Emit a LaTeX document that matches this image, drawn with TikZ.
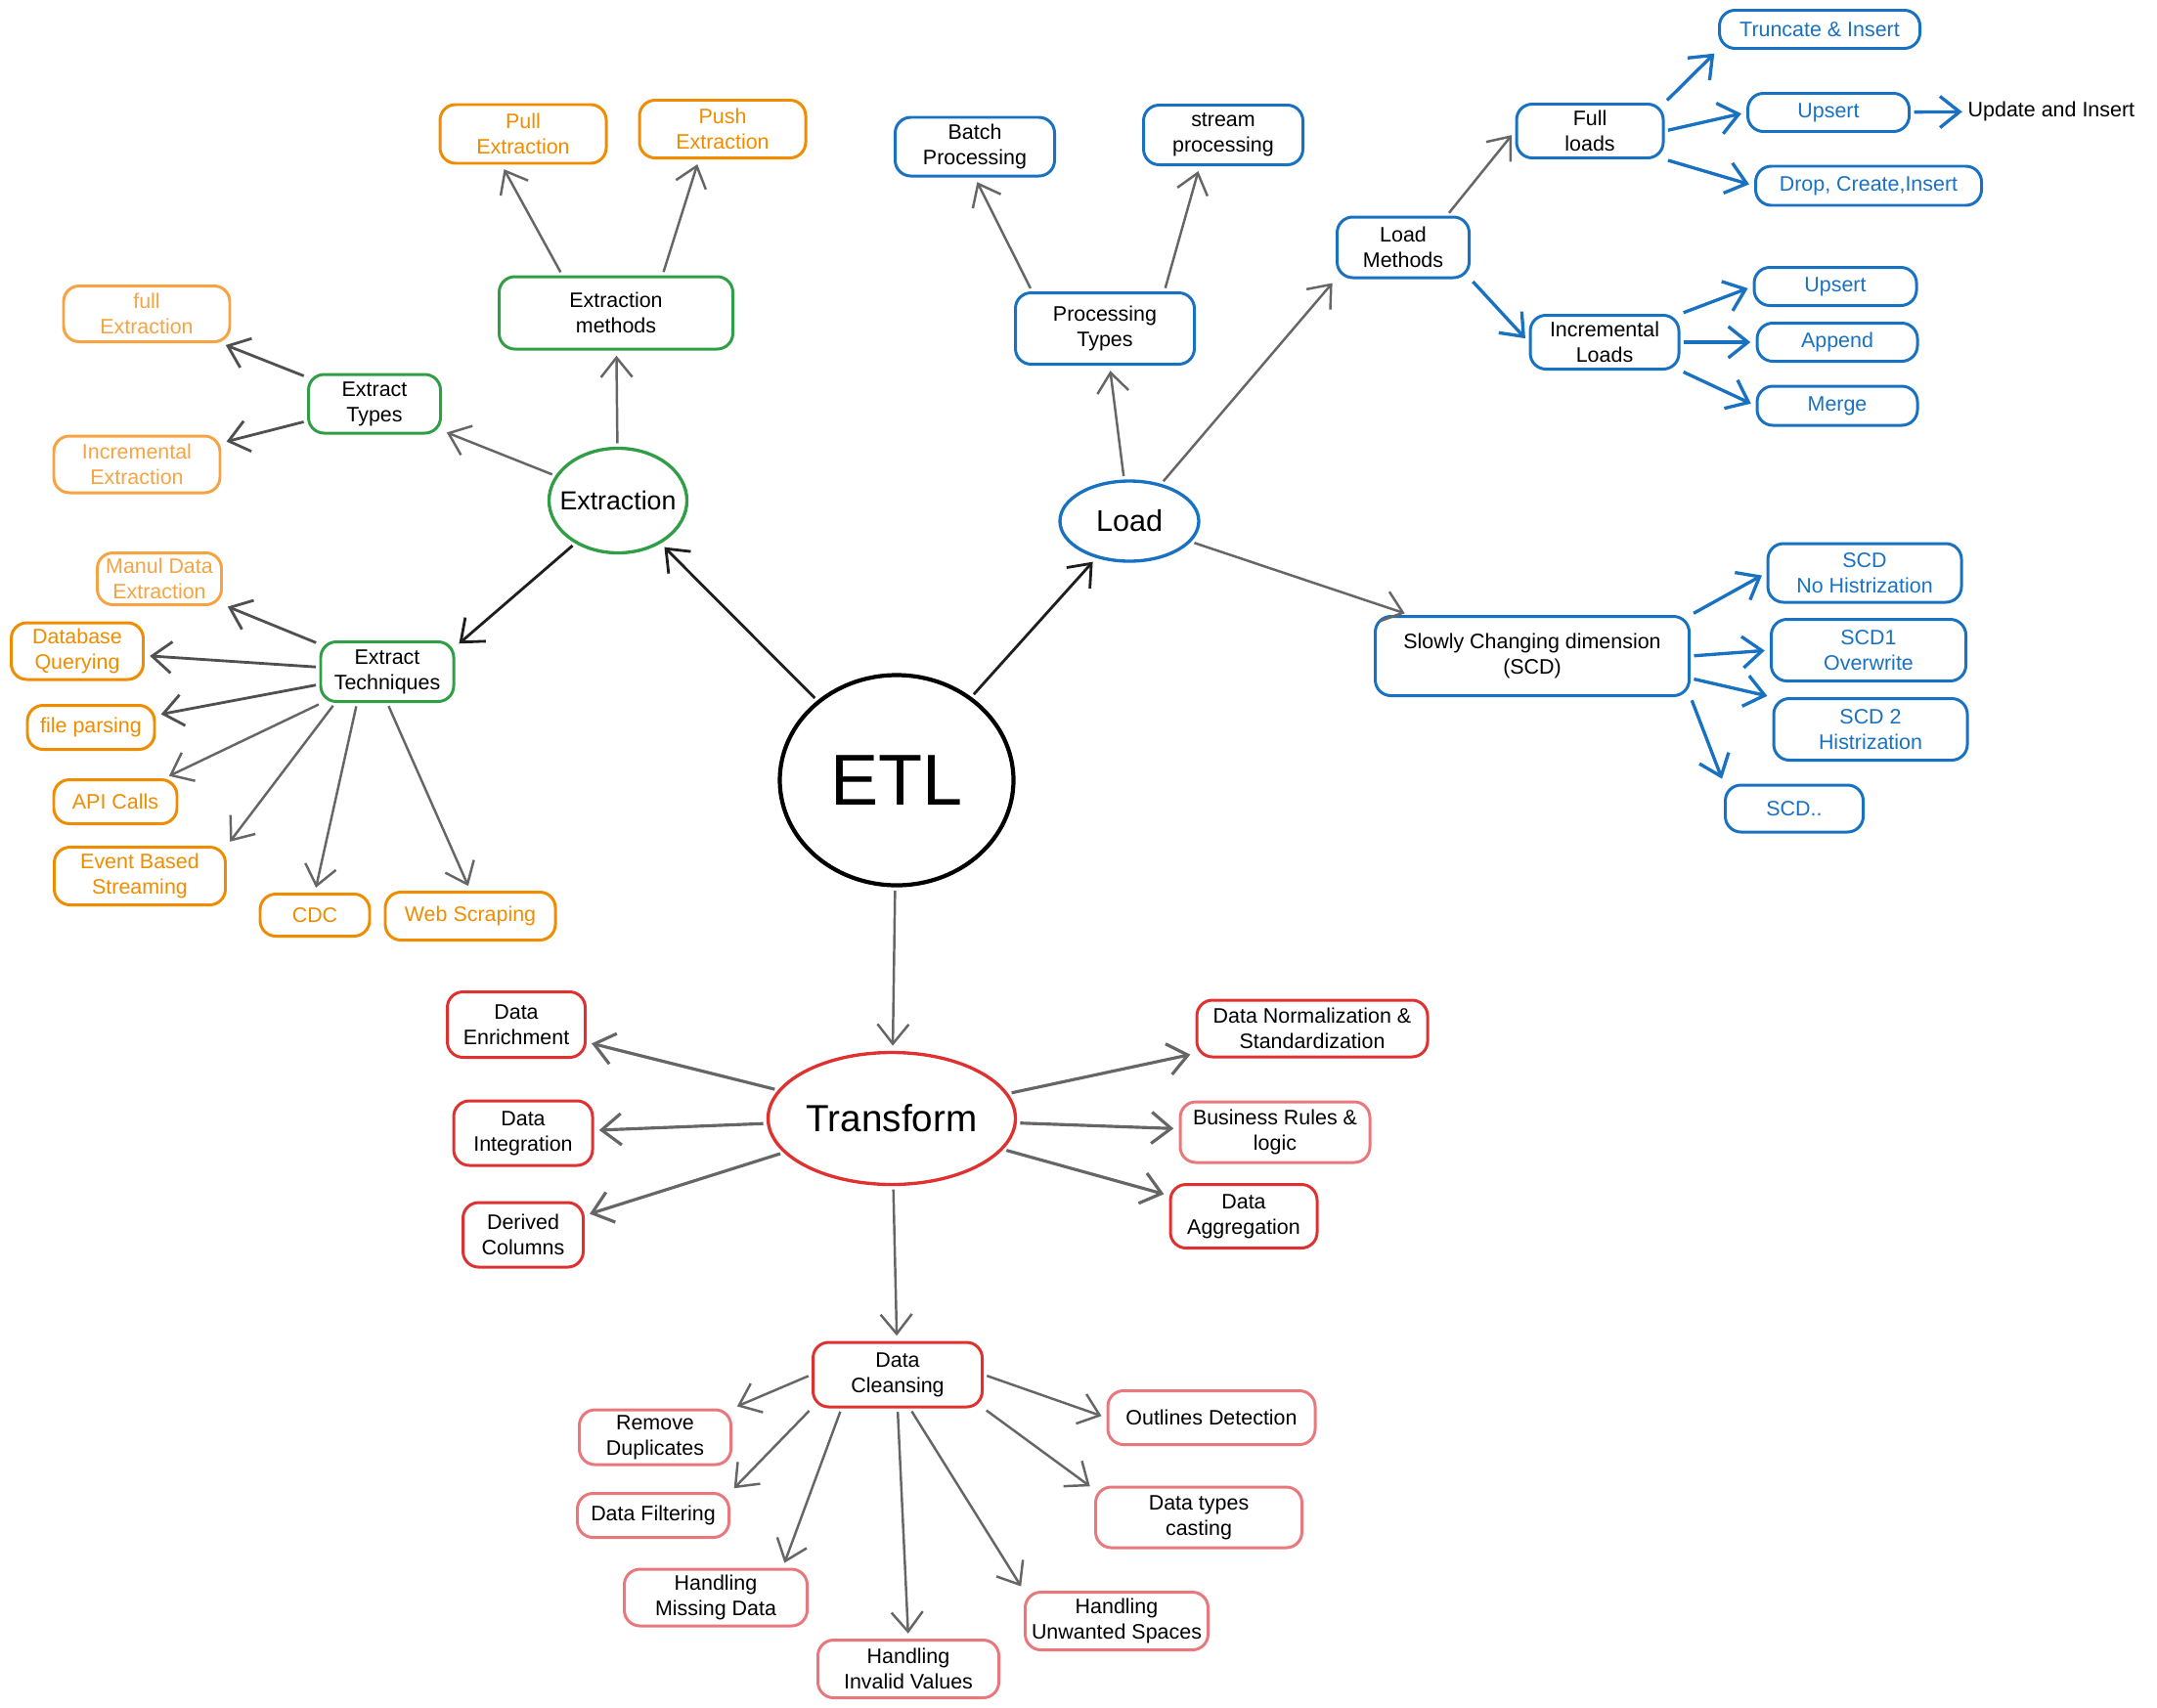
\documentclass[tikz,border=0pt]{standalone}
\usepackage{fontspec}
\setmainfont{Liberation Sans}
\usetikzlibrary{arrows.meta,shapes.geometric}

\definecolor{orangeC}{HTML}{F08C00}
\definecolor{lorangeC}{HTML}{F6A443}
\definecolor{greenC}{HTML}{2F9E44}
\definecolor{blueC}{HTML}{1971C2}
\definecolor{redC}{HTML}{E03131}
\definecolor{pinkC}{HTML}{E9787C}
\definecolor{grayA}{HTML}{666666}
\definecolor{darkA}{HTML}{505050}
\definecolor{blackA}{HTML}{1E1E1E}

\begin{document}
\begin{tikzpicture}[
		box/.style={draw, rounded corners=1.6mm, line width=0.85pt, align=center, inner sep=1pt, font=\fontsize{6.1}{7.4}\selectfont},
		sz/.style 2 args={minimum width=#1cm, minimum height=#2cm},
		orbox/.style={box, draw=orangeC, text=orangeC},
		lorbox/.style={box, draw=lorangeC, text=lorangeC},
		grbox/.style={box, draw=greenC},
		blbox/.style={box, draw=blueC},
		blleaf/.style={box, draw=blueC, text=blueC},
		rdbox/.style={box, draw=redC},
		pkbox/.style={box, draw=pinkC},
		hub/.style={ellipse, draw, line width=0.95pt, inner sep=0pt},
		arr/.style={-{Straight Barb[length=2mm,width=3.2mm]}, line width=0.7pt, shorten <=1pt, shorten >=1.5pt},
		grayarr/.style={arr, draw=grayA},
		darkarr/.style={arr, draw=darkA, line width=0.8pt},
		blackarr/.style={arr, draw=blackA, line width=0.8pt},
		bluearr/.style={arr, draw=blueC, line width=0.95pt}
	]
			\useasboundingbox (0,0) rectangle (22.06,-17.46);

			\node [hub, line width=1.2pt, minimum width=2.39cm, minimum height=2.15cm, font=\fontsize{21}{24}\selectfont] (etl) at (9.17,-7.98) {\makebox[0pt]{ETL}};
			\node [hub, draw=greenC, minimum width=1.41cm, minimum height=1.07cm, font=\fontsize{7.6}{9}\selectfont] (extraction) at (6.32,-5.12) {\makebox[0pt]{Extraction}};
			\node [hub, draw=blueC, minimum width=1.42cm, minimum height=0.82cm, font=\fontsize{8.7}{10}\selectfont] (load) at (11.55,-5.33) {\makebox[0pt]{Load}};
			\node [hub, draw=redC, minimum width=2.53cm, minimum height=1.35cm, font=\fontsize{11}{13}\selectfont] (transform) at (9.12,-11.44) {\makebox[0pt]{Transform}};

			\node [grbox, sz={2.39}{0.74}] (emethods) at (6.30,-3.20) {Extraction\\methods};
			\node [grbox, sz={1.35}{0.60}] (etypes) at (3.83,-4.13) {Extract\\Types};
			\node [grbox, sz={1.36}{0.61}] (etech) at (3.96,-6.87) {Extract\\Techniques};

			\node [orbox, sz={1.70}{0.60}] (pull) at (5.35,-1.37) {Pull\\Extraction};
			\node [orbox, sz={1.70}{0.59}] (push) at (7.39,-1.32) {Push\\Extraction};
			\node [lorbox, sz={1.70}{0.57}] (fullext) at (1.50,-3.21) {full\\Extraction};
			\node [lorbox, sz={1.70}{0.58}] (incext) at (1.40,-4.75) {Incremental\\Extraction};
			\node [lorbox, sz={1.27}{0.53}] (manual) at (1.63,-5.92) {Manul Data\\Extraction};
			\node [orbox, sz={1.35}{0.58}] (dbq) at (0.79,-6.66) {Database\\Querying};
			\node [orbox, sz={1.30}{0.45}] (fparse) at (0.93,-7.44) {file parsing};
			\node [orbox, sz={1.26}{0.45}] (api) at (1.18,-8.20) {API Calls};
			\node [orbox, sz={1.75}{0.59}] (event) at (1.43,-8.96) {Event Based\\Streaming};
			\node [orbox, sz={1.12}{0.43}] (cdc) at (3.22,-9.36) {CDC};
			\node [orbox, sz={1.74}{0.49}] (web) at (4.81,-9.37) {Web Scraping};

			\node [blbox, sz={1.63}{0.60}] (batch) at (9.97,-1.50) {Batch\\Processing};
			\node [blbox, sz={1.63}{0.61}] (stream) at (12.51,-1.38) {stream\\processing};
			\node [blbox, sz={1.83}{0.73}] (ptypes) at (11.30,-3.36) {Processing\\Types};
			\node [blbox, sz={1.35}{0.62}] (lmethods) at (14.35,-2.53) {Load\\Methods};
			\node [blbox, sz={1.50}{0.55}] (fullloads) at (16.26,-1.34) {Full\\loads};
			\node [blleaf, sz={2.05}{0.39}] (truncate) at (18.61,-0.30) {Truncate \& Insert};
			\node [blleaf, sz={1.65}{0.39}] (upsert1) at (18.70,-1.15) {Upsert};
			\node [font=\fontsize{6.1}{7.4}\selectfont, anchor=west, inner sep=0pt] (upd) at (20.12,-1.14) {Update and Insert};
			\node [blleaf, sz={2.31}{0.40}] (drop) at (19.11,-1.90) {Drop, Create,Insert};
			\node [blbox, sz={1.52}{0.55}] (incloads) at (16.41,-3.50) {Incremental\\Loads};
			\node [blleaf, sz={1.66}{0.39}] (upsert2) at (18.77,-2.93) {Upsert};
			\node [blleaf, sz={1.64}{0.39}] (append) at (18.79,-3.50) {Append};
			\node [blleaf, sz={1.64}{0.40}] (merge) at (18.79,-4.15) {Merge};
			\node [blbox, sz={3.21}{0.81}] (scd) at (15.67,-6.71) {Slowly Changing dimension\\(SCD)};
			\node [blleaf, sz={1.98}{0.60}] (scd0) at (19.07,-5.86) {SCD\\No Histrization};
			\node [blleaf, sz={1.99}{0.63}] (scd1) at (19.11,-6.65) {SCD1\\Overwrite};
			\node [blleaf, sz={1.98}{0.63}] (scd2) at (19.13,-7.46) {SCD 2\\Histrization};
			\node [blleaf, sz={1.41}{0.48}] (scdx) at (18.35,-8.27) {SCD..};

			\node [rdbox, sz={1.41}{0.67}] (enrich) at (5.28,-10.48) {Data\\Enrichment};
			\node [rdbox, sz={1.42}{0.66}] (integ) at (5.35,-11.59) {Data\\Integration};
			\node [rdbox, sz={1.23}{0.66}] (derived) at (5.35,-12.63) {Derived\\Columns};
			\node [rdbox, sz={2.36}{0.58}] (norm) at (13.42,-10.52) {Data Normalization \&\\Standardization};
			\node [pkbox, sz={1.94}{0.62}] (brules) at (13.04,-11.58) {Business Rules \&\\logic};
			\node [rdbox, sz={1.50}{0.65}] (aggr) at (12.72,-12.44) {Data\\Aggregation};
			\node [rdbox, sz={1.73}{0.66}] (clean) at (9.18,-14.06) {Data\\Cleansing};
			\node [pkbox, sz={1.55}{0.56}] (remdup) at (6.70,-14.70) {Remove\\Duplicates};
			\node [pkbox, sz={1.55}{0.45}] (filter) at (6.68,-15.50) {Data Filtering};
			\node [pkbox, sz={1.87}{0.58}] (missing) at (7.32,-16.34) {Handling\\Missing Data};
			\node [pkbox, sz={1.85}{0.59}] (invalid) at (9.29,-17.07) {Handling\\Invalid Values};
			\node [pkbox, sz={1.87}{0.59}] (unwanted) at (11.42,-16.58) {Handling\\Unwanted Spaces};
			\node [pkbox, sz={2.11}{0.62}] (casting) at (12.26,-15.52) {Data types\\casting};
			\node [pkbox, sz={2.12}{0.55}] (outliers) at (12.39,-14.50) {Outlines Detection};

			\draw [blackarr] (etl) -- (extraction);
			\draw [blackarr] (etl) -- (load);
			\draw [grayarr] (etl) -- (transform);

			\draw [blackarr] (extraction.225) -- (etech.20);
			\draw [grayarr] (extraction) -- (etypes);
			\draw [grayarr] (extraction) -- (emethods);
			\draw [grayarr] (emethods.145) -- (pull.235);
			\draw [grayarr] (emethods.39) -- (push.232);
			\draw [darkarr] (etypes) -- (fullext);
			\draw [darkarr] (etypes) -- (incext);

			\draw [darkarr] (etech) -- (manual);
			\draw [darkarr] (etech) -- (dbq);
			\draw [darkarr] (etech) -- (fparse);
			\draw [grayarr] (etech) -- (api);
			\draw [grayarr] (etech.211) -- (event.north east);
			\draw [grayarr] (etech.226) -- (cdc.north);
			\draw [grayarr] (etech.south) -- (web.north);

			\draw [grayarr] (load) -- (ptypes);
			\draw [grayarr] (ptypes.153) -- (batch.south);
			\draw [grayarr] (ptypes.32) -- (stream.233);
			\draw [grayarr] (load) -- (lmethods.south west);
			\draw [grayarr] (load) -- (scd);
			\draw [grayarr] (lmethods.36) -- (fullloads.west);
			\draw [bluearr] (lmethods.south east) -- (incloads.west);
			\draw [bluearr] (fullloads.north east) -- (truncate.south west);
			\draw [bluearr] (fullloads.east) -- (upsert1.west);
			\draw [bluearr] (fullloads.south east) -- (drop.west);
			\draw [bluearr] (upsert1) -- (upd);
			\draw [bluearr] (incloads.north east) -- (upsert2.west);
			\draw [bluearr] (incloads.east) -- (append.west);
			\draw [bluearr] (incloads.south east) -- (merge.west);
			\draw [bluearr] (scd.north east) -- (scd0.west);
			\draw [bluearr] (scd.east) -- (scd1.west);
			\draw [bluearr] (scd.-8) -- (scd2.north west);
			\draw [bluearr] (scd.south east) -- (scdx.north west);

			\draw [grayarr, line width=0.9pt] (transform) -- (enrich);
			\draw [grayarr, line width=0.9pt] (transform) -- (integ);
			\draw [grayarr, line width=0.9pt] (transform) -- (derived);
			\draw [grayarr, line width=0.9pt] (transform) -- (norm);
			\draw [grayarr, line width=0.9pt] (transform) -- (brules);
			\draw [grayarr, line width=0.9pt] (transform) -- (aggr);
			\draw [grayarr] (transform) -- (clean);

			\draw [grayarr] (clean.west) -- (remdup.north east);
			\draw [grayarr] (clean.south west) -- (filter.north east);
			\draw [grayarr] (clean.211) -- (missing.24);
			\draw [grayarr] (clean.south) -- (invalid.north);
			\draw [grayarr] (clean.290) -- (unwanted.north west);
			\draw [grayarr] (clean.south east) -- (casting.165);
			\draw [grayarr] (clean.east) -- (outliers.west);
		\end{tikzpicture}
\end{document}
